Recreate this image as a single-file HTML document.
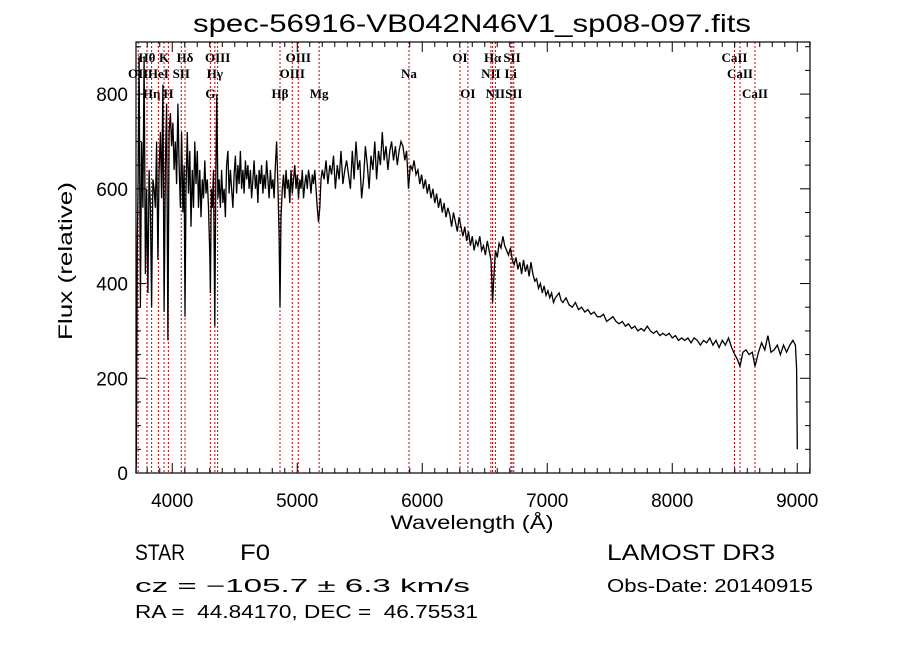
<!DOCTYPE html>
<html><head><meta charset="utf-8"><style>
body{margin:0;background:#fff}
svg{display:block}
text{font-family:"Liberation Sans",sans-serif;fill:#000;white-space:pre}
text.lbl{font-family:"Liberation Serif",serif;font-weight:bold}
</style></head><body>
<svg id="chart" width="900" height="649" viewBox="0 0 900 649" xmlns="http://www.w3.org/2000/svg">
<rect width="900" height="649" fill="#fff"/>
<text x="472" y="32" font-size="25" text-anchor="middle" textLength="558" lengthAdjust="spacingAndGlyphs">spec-56916-VB042N46V1_sp08-097.fits</text>
<g id="lines"></g>
<g id="spec"></g>
<g id="axes"></g>
<text x="472" y="529" font-size="19" text-anchor="middle" textLength="163" lengthAdjust="spacingAndGlyphs">Wavelength (Å)</text>
<text transform="translate(72,261) rotate(-90)" font-size="19" text-anchor="middle" textLength="158" lengthAdjust="spacingAndGlyphs">Flux (relative)</text>
<text x="135" y="560" font-size="22" textLength="50" lengthAdjust="spacingAndGlyphs">STAR</text>
<text x="240" y="560" font-size="22" textLength="30" lengthAdjust="spacingAndGlyphs">F0</text>
<text x="135" y="592" font-size="18" textLength="335" lengthAdjust="spacingAndGlyphs">cz = −105.7 ± 6.3 km/s</text>
<text x="135" y="618" font-size="18" textLength="343" lengthAdjust="spacingAndGlyphs">RA =  44.84170, DEC =  46.75531</text>
<text x="607" y="560" font-size="22" textLength="168" lengthAdjust="spacingAndGlyphs">LAMOST DR3</text>
<text x="607" y="592" font-size="18" textLength="206" lengthAdjust="spacingAndGlyphs">Obs-Date: 20140915</text>
</svg>
<script>
const waveBlue = [3710,3712,3720,3727,3735,3745,3755,3765,3775,3785,3795,3805,3815,3825,3835,3845,3855,3865,3875,3885,3895,3905,3915,3925,3935,3945,3955,3965,3975,3985,3995,4005,4015,4025,4035,4045,4055,4065,4075,4085,4095,4102,4110,4120,4130,4140,4150,4160,4170,4180,4190,4200,4210,4220,4230,4240,4250,4260,4270,4280,4290,4300,4305,4312,4320,4330,4340,4348,4356,4365,4375,4385,4395,4405,4415,4425,4435,4445,4455,4465,4475,4485,4495,4505,4515,4525,4535,4545,4555,4565,4575,4585,4595,4605,4615,4625,4635,4645,4655,4665,4675,4685,4695,4705,4715,4725,4735,4745,4755,4765,4775,4785,4795,4805,4815,4825,4835,4845,4855,4862,4870,4880,4890,4900,4910,4920,4930,4940,4950,4960,4970,4980,4990,5000,5010,5020,5030,5040,5050,5060,5070,5080,5090,5100,5110,5120,5130,5140,5150,5160,5170,5180,5190,5200];
const fluxBlue = [0,20,480,620,880,350,700,560,880,420,600,380,640,560,350,620,600,560,700,450,640,720,580,820,340,650,780,280,720,760,690,740,640,700,610,780,650,560,720,550,650,330,600,720,590,680,520,640,560,700,610,680,560,640,540,620,580,660,590,620,560,460,380,600,560,640,310,620,800,580,620,560,640,570,600,540,650,680,590,640,600,560,630,670,590,650,610,680,600,640,590,660,620,650,600,640,580,620,660,600,630,570,640,610,650,590,630,600,660,620,580,640,600,620,580,650,700,610,500,350,540,600,630,580,640,600,620,570,640,590,620,650,600,630,580,620,600,640,580,610,630,600,640,620,590,630,610,640,600,560,530,560,620,640];
const waveRed = [5215,5230,5245,5260,5275,5290,5305,5320,5335,5350, 5365,5380,5395,5410,5425,5440,5455,5470,5485,5500, 5515,5530,5545,5560,5575,5590,5605,5620,5635,5650, 5665,5680,5695,5710,5725,5740,5755,5770,5785,5800, 5815,5830,5845,5860,5875,5890,5905,5920,5935,5950, 5965,5980,5995,6010,6025,6040,6055,6070,6085,6100, 6115,6130,6145,6160,6175,6190,6205,6220,6235,6250, 6265,6280,6295,6310,6325,6340,6355,6370,6385,6400, 6415,6430,6445,6460,6475,6490,6505,6520,6535,6550, 6555,6563,6570,6585,6600,6615,6630,6645,6660,6675, 6690,6705,6720,6735,6750,6765,6780,6795,6810,6825, 6840,6855,6870,6885,6900,6915,6930,6945,6960,6975, 6990,7005,7020,7035,7050,7065,7080,7095,7110,7125, 7150,7175,7200,7225,7250,7275,7300,7325,7350,7375, 7400,7425,7450,7475,7500,7525,7550,7575,7600,7625, 7650,7675,7700,7725,7750,7775,7800,7825,7850,7875, 7900,7925,7950,7975,8000,8025,8050,8075,8100,8125, 8150,8175,8200,8225,8250,8275,8300,8325,8350,8375, 8400,8425,8450,8475,8500,8520,8542,8565,8590,8615, 8640,8662,8690,8715,8740,8765,8790,8815,8840,8865, 8890,8915,8940,8965,8985,8995,9000];
const fluxRed = [620,660,610,650,630,670,600,650,620,680, 610,640,660,630,600,680,620,700,640,660, 580,620,690,650,600,670,640,700,620,680, 650,720,660,690,640,680,700,660,690,650, 680,700,690,660,680,600,650,640,660,630, 640,610,630,600,620,590,610,580,600,570, 590,560,580,550,570,540,560,545,520,550, 530,510,540,520,500,520,490,510,480,500, 470,490,480,500,470,480,460,490,470,450, 420,360,400,470,455,485,475,500,480,470, 460,475,450,440,455,430,445,420,450,425, 440,415,445,420,405,410,390,400,380,395, 375,385,370,380,360,370,375,380,365,360, 370,355,350,360,345,350,340,345,335,340, 330,330,335,320,325,330,320,315,320,310, 315,305,310,300,305,300,310,300,295,300, 290,295,290,295,285,290,280,285,280,285, 275,285,280,270,280,275,285,270,280,265, 280,270,285,265,250,240,225,255,260,250, 255,225,255,275,260,290,255,260,270,250, 270,255,270,280,270,220,50];
const lineWave = [3727,3798,3835,3889,3934,3969,4072,4102,4305,4341,4363,4862,4960,5008,5175,5894,6302,6365,6549,6563,6585,6708,6718,6732,8498,8542,8662];
const lineName = ["OII","Hθ","Hη","HeI","K","H","SII","Hδ","G","Hγ","OIII","Hβ","OIII","OIII","Mg","Na","OI","OI","NII","Hα","NII","Li","SII","SII","CaII","CaII","CaII"];
const lineRow = [1,0,2,1,0,2,1,0,2,1,0,2,1,0,2,1,0,2,1,0,2,1,0,2,0,1,2];
const xTicks = [4000,5000,6000,7000,8000,9000];
const yTicks = [0,200,400,600,800];

const wave = waveBlue.concat(waveRed);
const flux = fluxBlue.concat(fluxRed);
const X0=136,X1=810,Y0=473,Y1=42;
const WMIN=3710, WMAX=9102, FMIN=0, FMAX=910;
const xs = w => X0 + (w-WMIN)/(WMAX-WMIN)*(X1-X0);
const ys = f => Y0 - (f-FMIN)/(FMAX-FMIN)*(Y0-Y1);
const NS="http://www.w3.org/2000/svg";
function mk(tag, attrs, parent){const e=document.createElementNS(NS,tag);for(const k in attrs)e.setAttribute(k,attrs[k]);parent.appendChild(e);return e;}

const gL=document.getElementById('lines');
const rowY=[62,78,98];
lineWave.forEach((w,i)=>{
  const x=xs(w);
  const l=mk('line',{x1:x,x2:x,y1:Y1,y2:Y0,stroke:'#c00000','stroke-width':1,'stroke-dasharray':'2,2'},gL);
  
  
  const t=mk('text',{x:x,y:rowY[lineRow[i]],'font-size':13,'text-anchor':'middle','class':'lbl'},gL);
  t.textContent=lineName[i];
  
  
});

const gS=document.getElementById('spec');
let d='';
const n=Math.min(wave.length,flux.length);
for(let i=0;i<n;i++){d+=(i?'L':'M')+xs(wave[i]).toFixed(1)+' '+ys(flux[i]).toFixed(1);}
const p=mk('path',{d:d,fill:'none',stroke:'#000','stroke-width':1.3},gS);



const gA=document.getElementById('axes');
const fr=mk('rect',{x:X0,y:Y1,width:X1-X0,height:Y0-Y1,fill:'none',stroke:'#000','stroke-width':1.2},gA);


for(let w=3800; w<=9100; w+=100){
  const x=xs(w), L=(w%1000===0)?10:5;
  mk('line',{x1:x,x2:x,y1:Y0,y2:Y0-L,stroke:'#000'},gA);
  mk('line',{x1:x,x2:x,y1:Y1,y2:Y1+L,stroke:'#000'},gA);
}
for(let f=0; f<=900; f+=50){
  const y=ys(f), L=(f%200===0)?10:5;
  mk('line',{x1:X0,x2:X0+L,y1:y,y2:y,stroke:'#000'},gA);
  mk('line',{x1:X1,x2:X1-L,y1:y,y2:y,stroke:'#000'},gA);
}
xTicks.forEach(w=>{
  const t=mk('text',{x:xs(w),y:507,'font-size':19,'text-anchor':'middle'},gA);
  t.textContent=w;
  
  
});
yTicks.forEach(f=>{
  const t=mk('text',{x:128,y:ys(f)+7,'font-size':19,'text-anchor':'end'},gA);
  t.textContent=f;
  
  
});
</script>
</body></html>
